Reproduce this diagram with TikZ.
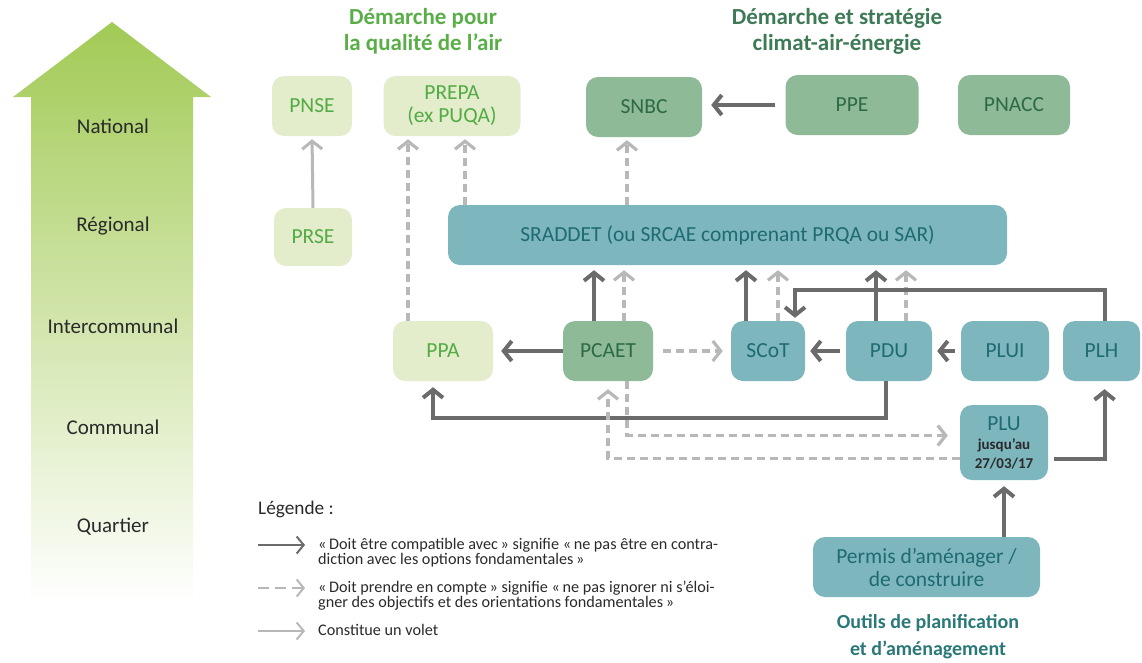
\documentclass[tikz,border=0pt]{standalone}
\usepackage{fontspec}
\setmainfont{Carlito}
\usetikzlibrary{arrows.meta}
\definecolor{lgfill}{HTML}{E4EDCB}
\definecolor{lgtext}{HTML}{52AB44}
\definecolor{mgfill}{HTML}{8FBA98}
\definecolor{mgtext}{HTML}{2C6A46}
\definecolor{tlfill}{HTML}{7EB6BD}
\definecolor{tltext}{HTML}{1E6B72}
\definecolor{dgray}{HTML}{6B6B6B}
\definecolor{lgray}{HTML}{B8B8B8}
\definecolor{arrowtop}{HTML}{A2CA55}
\definecolor{arrowmid}{HTML}{CFE2A6}
\definecolor{titlegreen}{HTML}{5AAE48}
\definecolor{titledark}{HTML}{3D7A55}
\definecolor{titleteal}{HTML}{2B7878}
\definecolor{txt}{HTML}{2A2A2A}
\newcommand{\plusmall}[1]{\textcolor{txt}{\fontsize{15}{16}\selectfont\bfseries #1}}
\tikzset{
  box/.style={rounded corners=12pt, minimum height=60pt, inner sep=2pt, align=center,
    font=\fontsize{21.5}{23}\selectfont},
  lightbox/.style={box, fill=lgfill, text=lgtext},
  midbox/.style={box, fill=mgfill, text=mgtext},
  tealbox/.style={box, fill=tlfill, text=tltext},
  strong/.style={draw=dgray, line width=4pt, -{Straight Barb[length=8pt,width=20pt]}},
  weak/.style={draw=lgray, line width=3.2pt, dash pattern=on 8pt off 5pt, -{Straight Barb[length=8pt,width=20pt]}},
  part/.style={draw=lgray, line width=3pt, -{Straight Barb[length=8pt,width=20pt]}},
  level/.style={text=txt, font=\fontsize{21}{23}\selectfont},
  title/.style={align=center, font=\fontsize{23}{26}\selectfont\bfseries},
  legtext/.style={anchor=north west, align=left, text=txt, inner sep=0pt,
    font=\fontsize{16.2}{15}\selectfont},
}
\begin{document}
\begin{tikzpicture}[x=1pt,y=-1pt]
\useasboundingbox (0,0) rectangle (1142,662);
% big level arrow
\shade[top color=arrowtop, middle color=arrowmid, bottom color=white]
  (13,97) -- (112,22) -- (211,97) -- (193,97) -- (193,605) -- (31,605) -- (31,97) -- cycle;
\node[level] (lnat) at (113,126) {National};
\node[level] (lreg) at (113,226) {Régional};
\node[level] (lint) at (113,326) {Intercommunal};
\node[level] (lcom) at (113,427) {Communal};
\node[level] (lqua) at (113,527) {Quartier};

% titles
\node[title, text=titlegreen] (t1) at (423,31) {Démarche pour\\la qualité de l’air};
\node[title, text=titledark] (t2) at (837,31) {Démarche et stratégie\\climat-air-énergie};
\node[title, text=titleteal, font=\fontsize{20}{27}\selectfont\bfseries] (t3) at (928,637) {Outils de planification\\et d’aménagement};

% nodes
\node[lightbox, minimum width=80pt] (PNSE) at (312,106) {PNSE};
\node[lightbox, minimum width=137pt] (PREPA) at (452,106) {PREPA\\(ex PUQA)};
\node[midbox, minimum width=116pt] (SNBC) at (644,107) {SNBC};
\node[midbox, minimum width=133pt] (PPE) at (852,105) {PPE};
\node[midbox, minimum width=112pt] (PNACC) at (1014,105) {PNACC};
\node[lightbox, minimum width=78pt, minimum height=58pt] (PRSE) at (313,237) {PRSE};
\node[tealbox, minimum width=559pt] (SRADDET) at (727.5,235) {SRADDET (ou SRCAE comprenant PRQA ou SAR)};
\node[lightbox, minimum width=100pt] (PPA) at (443,351) {PPA};
\node[midbox, minimum width=90pt] (PCAET) at (608,351) {PCAET};
\node[tealbox, minimum width=74pt] (SCoT) at (768,351) {SCoT};
\node[tealbox, minimum width=86pt] (PDU) at (889,351) {PDU};
\node[tealbox, minimum width=88pt] (PLUI) at (1005,351) {PLUI};
\node[tealbox, minimum width=77pt] (PLH) at (1101.5,351) {PLH};
\node[tealbox, minimum width=88pt, minimum height=75pt] (PLU) at (1004,442.5)
  {PLU\\[-4pt]\plusmall{jusqu’au}\\[-4pt]\plusmall{27/03/17}};
\node[tealbox, minimum width=227pt] (Permis) at (926.5,567) {Permis d’aménager /\\de construire};

% connectors, national level
\draw[part, shorten >=3pt] (PRSE.north) -- (PNSE.south);
\draw[strong, shorten <=10pt, shorten >=9pt] (PPE.west) -- (PPE.west -| SNBC.east);
\draw[weak, shorten >=3pt] ([xshift=13pt]PREPA.south |- SRADDET.north) -- ([xshift=13pt]PREPA.south);
\draw[weak, shorten >=3pt] ([xshift=-44pt]PREPA.south |- PPA.north) -- ([xshift=-44pt]PREPA.south);
\draw[weak, shorten >=3pt] ([xshift=-17pt]SNBC.south |- SRADDET.north) -- ([xshift=-17pt]SNBC.south);

% to SRADDET
\draw[strong, shorten >=5pt] ([xshift=-14pt]PCAET.north) -- ([xshift=-14pt]PCAET.north |- SRADDET.south);
\draw[weak, shorten >=5pt] ([xshift=16pt]PCAET.north) -- ([xshift=16pt]PCAET.north |- SRADDET.south);
\draw[strong, shorten >=5pt] ([xshift=-22pt]SCoT.north) -- ([xshift=-22pt]SCoT.north |- SRADDET.south);
\draw[weak, shorten >=5pt] ([xshift=10pt]SCoT.north) -- ([xshift=10pt]SCoT.north |- SRADDET.south);
\draw[strong, shorten >=5pt] ([xshift=-13pt]PDU.north) -- ([xshift=-13pt]PDU.north |- SRADDET.south);
\draw[weak, shorten >=5pt] ([xshift=17pt]PDU.north) -- ([xshift=17pt]PDU.north |- SRADDET.south);

% intercommunal row
\draw[strong] ([xshift=3pt]PLH.north) |- ([xshift=27pt,yshift=31pt]SCoT.north) -- ([xshift=27pt,yshift=3pt]SCoT.north);
\draw[strong, shorten >=8pt] (PCAET.west) -- (PPA.east);
\draw[weak, shorten <=10pt, shorten >=8pt] (PCAET.east) -- (SCoT.west);
\draw[strong, shorten <=6pt, shorten >=5pt] (PDU.west) -- (SCoT.east);
\draw[strong, shorten <=6pt, shorten >=5pt] (PLUI.west) -- (PDU.east);

% lower connectors
\draw[strong] ([xshift=-3pt]PDU.south) |- ([xshift=-10pt,yshift=-37pt]PPA.south) -- ([xshift=-10pt,yshift=-6pt]PPA.south);
\draw[weak, shorten >=12pt] ([xshift=19pt]PCAET.south) |- ([yshift=7pt]PLU.west);
\draw[weak, shorten >=8pt] ([yshift=-16pt]PLU.west) -| (PCAET.south);
\draw[strong, shorten <=6pt, shorten >=8pt] ([yshift=-16pt]PLU.east) -| ([xshift=3pt]PLH.south);
\draw[strong, shorten >=6pt] (PLU.south |- Permis.north) -- (PLU.south);

% legend
\node[anchor=base west, text=txt, font=\fontsize{19.3}{21}\selectfont, inner sep=0pt] (leg) at (258,514) {Légende :};
\coordinate (a1s) at (258,545); \coordinate (a1e) at (305,545);
\coordinate (a2s) at (258,588); \coordinate (a2e) at (305,588);
\coordinate (a3s) at (258,631); \coordinate (a3e) at (305,631);
\draw[draw=dgray, line width=2pt, -{Straight Barb[length=7pt,width=17pt]}] (a1s) -- (a1e);
\draw[draw=lgray, line width=2pt, dash pattern=on 11pt off 6pt, -{Straight Barb[length=7pt,width=17pt]}] (a2s) -- (a2e);
\draw[draw=lgray, line width=2pt, -{Straight Barb[length=7pt,width=17pt]}] (a3s) -- (a3e);
\node[legtext] (l1) at (318,538) {«\,Doit être compatible avec\,» signifie «\,ne pas être en contra-\\diction avec les options fondamentales\,»};
\node[legtext] (l2) at (318,581) {«\,Doit prendre en compte\,» signifie «\,ne pas ignorer ni s’éloi-\\gner des objectifs et des orientations fondamentales\,»};
\node[legtext] (l3) at (318,624) {Constitue un volet};
\end{tikzpicture}
\end{document}
